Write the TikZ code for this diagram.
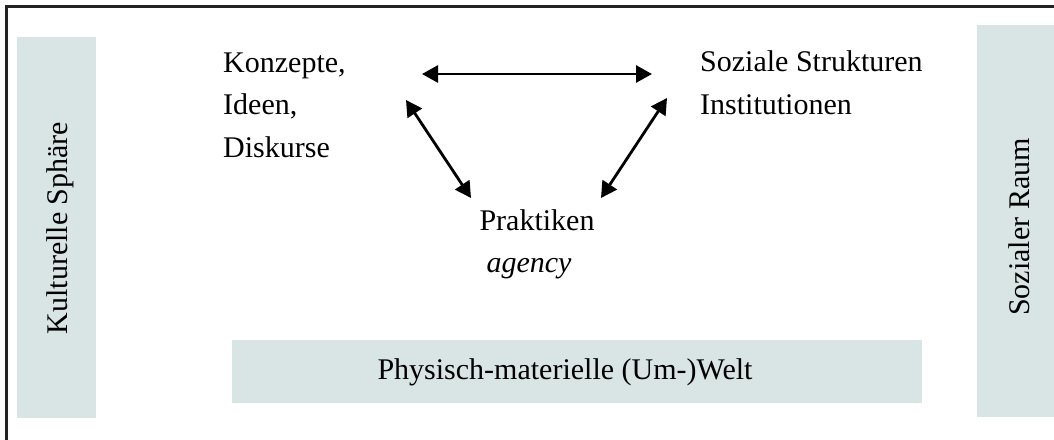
\documentclass[tikz,border=0pt]{standalone}
\usepackage{fontspec}
\setmainfont{Liberation Serif}
\usetikzlibrary{arrows.meta}
\definecolor{boxfill}{RGB}{217,228,228}
\definecolor{framecol}{RGB}{35,35,35}
\tikzset{
  band/.style={fill=boxfill, draw=none},
  lbl/.style={inner sep=0pt, font=\fontsize{30}{42.5}\selectfont},
  biarrow/.style={line width=2.8pt, {Triangle[length=16pt,width=17pt]}-{Triangle[length=16pt,width=17pt]}}
}
\begin{document}
\begin{tikzpicture}[x=1pt,y=-1pt]
\useasboundingbox (0,0) rectangle (1054,439);
\clip (0,0) rectangle (1054,439);
% frame
\draw[framecol, line width=2.2pt] (6.5,6.5) rectangle (1070,460);
% side bands and bottom band
\fill[band] (17,37) rectangle (96,418);
\fill[band] (977,25) rectangle (1060,417);
\fill[band] (232,340) rectangle (922,403);
\node[lbl, rotate=90, anchor=base] (kult) at (67,228) {Kulturelle Sphäre};
\node[lbl, rotate=90, anchor=base] (raum) at (1029,227) {Sozialer Raum};
\node[lbl, anchor=base] (welt) at (565,379) {Physisch-materielle (Um-)Welt};
% concept nodes (base anchor = last line)
\node[lbl, anchor=base west, align=left] (konz) at (223,157) {Konzepte,\\Ideen,\\Diskurse};
\node[lbl, anchor=base west, align=left] (soz) at (700,114) {Soziale Strukturen\\Institutionen};
\node[lbl, anchor=base] (prak) at (537,230) {Praktiken};
\node[lbl, anchor=base] (agen) at (529,272) {\itshape agency};
% arrow end points
\coordinate (h1) at (422,74);
\coordinate (h2) at (652,74);
\coordinate (l1) at (406,100);
\coordinate (l2) at (471,198);
\coordinate (r1) at (667,98);
\coordinate (r2) at (601,198);
\draw[biarrow] (h1) -- (h2);
\draw[biarrow] (l1) -- (l2);
\draw[biarrow] (r1) -- (r2);
\end{tikzpicture}
\end{document}
